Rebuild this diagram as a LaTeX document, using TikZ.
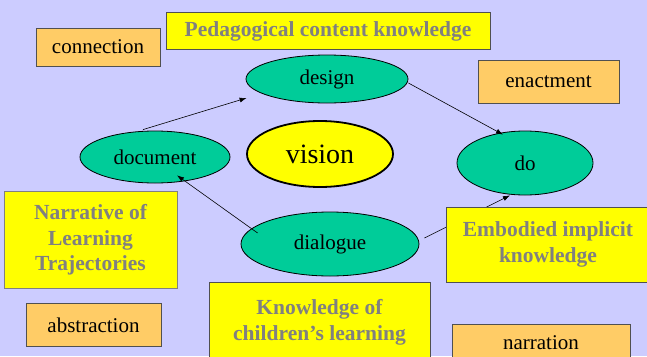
\documentclass[tikz,border=0pt]{standalone}
\usepackage{fontspec}
\setmainfont{LiberationSerif}[Extension=.ttf, UprightFont=*-Regular, BoldFont=*-Bold,
  ItalicFont=*-Italic, BoldItalicFont=*-BoldItalic]
\usetikzlibrary{shapes.geometric,arrows.meta,calc}

\definecolor{bgviolet}{RGB}{204,204,255}
\definecolor{ovalgreen}{RGB}{0,204,153}
\definecolor{boxorange}{RGB}{255,204,102}
\definecolor{boxyellow}{RGB}{255,255,0}
\definecolor{boxline}{RGB}{80,80,80}
\definecolor{labelgray}{RGB}{128,128,128}

\tikzset{
  oval/.style={ellipse, fill=ovalgreen, draw=black, line width=0.8pt, inner sep=0pt,
    font=\rmfamily\fontsize{21}{25}\selectfont},
  orangebox/.style={rectangle, fill=boxorange, draw=boxline, line width=1pt, inner sep=0pt,
    font=\rmfamily\fontsize{21}{25}\selectfont},
  yellowbox/.style={rectangle, fill=boxyellow, draw=boxline, line width=1pt, inner sep=0pt,
    text=labelgray, align=center, font=\rmfamily\fontsize{21.5}{25.5}\selectfont\bfseries},
  link/.style={draw=black, line width=0.6pt, -{Latex[length=7pt,width=5pt]}},
}

\begin{document}
\begin{tikzpicture}[x=1pt, y=-1pt]
  \clip (0,0) rectangle (647,356);
  \fill[bgviolet] (0,0) rectangle (647,356);

  % central ellipses
  \node[oval, minimum width=162pt, minimum height=48pt] (design) at (327,79) {design};
  \node[oval, minimum width=150pt, minimum height=52pt] (document) at (155,157) {document};
  \node[oval, minimum width=136pt, minimum height=64pt] (do) at (525,163) {do};
  \node[oval, minimum width=178pt, minimum height=64pt] (dialogue) at (330,244) {dialogue};
  \node[ellipse, fill=boxyellow, draw=black, line width=1.8pt, inner sep=0pt,
        minimum width=146pt, minimum height=66pt,
        font=\rmfamily\fontsize{28}{32}\selectfont] (vision) at (320,154) {vision};

  % cycle of arrows
  \draw[link] ($(document.north)+(-12,-1)$) -- ($(design.west)+(1,19)$);
  \draw[link] ($(design.east)+(0,4)$) -- ($(do.north)+(-22,4)$);
  \draw[link] ($(dialogue.west)+(17,-11)$) -- ($(document.south)+(22,-8)$);
  \draw[link] ($(dialogue.east)+(5,-6)$) -- ($(do.south)+(-15,0)$);

  % surrounding labels
  \node[orangebox, minimum width=124pt, minimum height=38pt] (connection) at (98,47) {connection};
  \node[orangebox, minimum width=141pt, minimum height=43pt] (enactment) at (548.5,82) {enactment};
  \node[orangebox, minimum width=135pt, minimum height=43pt] (abstraction) at (93.5,325) {abstraction};
  \node[orangebox, minimum width=178pt, minimum height=38pt] (narration) at (541,343) {narration};

  \node[yellowbox, minimum width=324pt, minimum height=37pt] (pck) at (328,31) {Pedagogical content knowledge};
  \node[yellowbox, draw=labelgray, minimum width=173pt, minimum height=97pt] (narrative) at (90.5,240)
    {Narrative of\\Learning\\Trajectories};
  \node[yellowbox, minimum width=221pt, minimum height=80pt] (children) at (319.5,322.5)
    {Knowledge of\\children’s learning};
  \node[yellowbox, minimum width=204pt, minimum height=75pt] (embodied) at (548,244.5)
    {Embodied implicit\\knowledge};
\end{tikzpicture}
\end{document}
